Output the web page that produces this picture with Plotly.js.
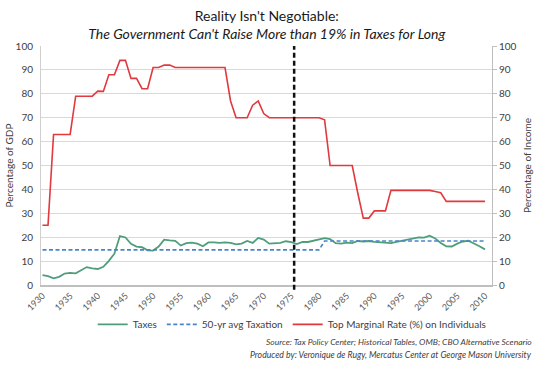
<!DOCTYPE html>
<html>
<head>
<meta charset="utf-8">
<script src="https://cdn.plot.ly/plotly-3.0.1.min.js"></script>
<style>html,body{margin:0;padding:0;background:#fff;}#chart{width:540px;height:367px;}</style>
</head>
<body>
<div id="chart"></div>
<script>
const years = [1930,1931,1932,1933,1934,1935,1936,1937,1938,1939,
  1940,1941,1942,1943,1944,1945,1946,1947,1948,1949,
  1950,1951,1952,1953,1954,1955,1956,1957,1958,1959,
  1960,1961,1962,1963,1964,1965,1966,1967,1968,1969,
  1970,1971,1972,1973,1974,1975,1976,1977,1978,1979,
  1980,1981,1982,1983,1984,1985,1986,1987,1988,1989,
  1990,1991,1992,1993,1994,1995,1996,1997,1998,1999,
  2000,2001,2002,2003,2004,2005,2006,2007,2008,2009,2010];

const taxes = [4.1,3.7,2.8,3.4,4.8,5.1,4.9,6.1,7.5,7.0,
  6.7,7.6,10.1,13.1,20.5,19.9,17.2,16.1,15.8,14.5,
  14.4,16.1,19.0,18.7,18.5,16.5,17.5,17.7,17.3,16.2,
  17.8,17.8,17.6,17.8,17.6,17.0,17.3,18.4,17.6,19.7,
  19.0,17.3,17.6,17.6,18.3,17.9,17.1,18.0,18.0,18.5,
  19.0,19.6,19.2,17.5,17.3,17.7,17.5,18.4,18.2,18.4,
  18.0,17.8,17.5,17.5,18.0,18.4,18.8,19.2,19.9,19.8,
  20.6,19.5,17.6,16.2,16.1,17.3,18.2,18.5,17.5,16.2,14.9];

const avgTaxation = [14.7,14.7,14.7,14.7,14.7,14.7,14.7,14.7,14.7,14.7,
  14.7,14.7,14.7,14.7,14.7,14.7,14.7,14.7,14.7,14.7,
  14.7,14.7,14.7,14.7,14.7,14.7,14.7,14.7,14.7,14.7,
  14.7,14.7,14.7,14.7,14.7,14.7,14.7,14.7,14.7,14.7,
  14.7,14.7,14.7,14.7,14.7,14.7,14.7,14.7,14.7,14.7,
  14.7,18.4,18.4,18.4,18.4,18.4,18.4,18.4,18.4,18.4,
  18.4,18.4,18.4,18.4,18.4,18.4,18.4,18.4,18.4,18.4,
  18.4,18.4,18.4,18.4,18.4,18.4,18.4,18.4,18.4,18.4,18.4];

const topRate = [25,25,63,63,63,63,79,79,79,79,
  81.1,81,88,88,94,94,86.45,86.45,82.13,82.13,
  91,91,92,92,91,91,91,91,91,91,
  91,91,91,91,77,70,70,70,75.25,77,
  71.75,70,70,70,70,70,70,70,70,70,
  70,69.13,50,50,50,50,50,38.5,28,28,
  31,31,31,39.6,39.6,39.6,39.6,39.6,39.6,39.6,
  39.6,39.1,38.6,35,35,35,35,35,35,35,35];

const tickYears = [1930,1935,1940,1945,1950,1955,1960,1965,1970,1975,1980,1985,1990,1995,2000,2005,2010];
const tickLabels = ["1930","1935","1940","1945","1950","1955","1960","1965","1970","1975","1980","1985","1990","1995","2000","2005","2010"];
const dividerYear = 1975.5;

const seriesNames = ["Taxes", "50-yr avg Taxation", "Top Marginal Rate (%) on Individuals"];

const FONT = "Lato, 'Open Sans', sans-serif";

const traces = [
  {x: years, y: taxes, name: seriesNames[0], type: "scatter", mode: "lines",
   line: {color: "#4e9e7c", width: 1.8}, yaxis: "y"},
  {x: years, y: avgTaxation, name: seriesNames[1], type: "scatter", mode: "lines",
   line: {color: "#4a85c9", width: 1.6, dash: "4px,2.5px", shape: "linear"}, yaxis: "y"},
  {x: years, y: topRate, name: seriesNames[2], type: "scatter", mode: "lines",
   line: {color: "#e0393e", width: 1.6}, yaxis: "y2"}
];

const layout = {
  width: 540, height: 367,
  margin: {l: 41, r: 48, t: 46, b: 82},
  paper_bgcolor: "#ffffff", plot_bgcolor: "#ffffff",
  font: {family: FONT, size: 10, color: "#404040"},
  title: {
    text: "Reality Isn't Negotiable:<br><i>The Government Can't Raise More than 19% in Taxes for Long</i>",
    font: {family: FONT, size: 14, color: "#1a1a1a"},
    x: 0.494, xanchor: "center", y: 0.944, yanchor: "top", yref: "container"
  },
  xaxis: {
    range: [1929.73, 2011.27],
    tickmode: "array", tickvals: tickYears, ticktext: tickLabels,
    tickangle: -45, tickfont: {size: 9, color: "#595959"},
    showgrid: false, zeroline: false,
    showline: true, linecolor: "#bfbfbf", linewidth: 2,
    ticks: ""
  },
  yaxis: {
    range: [0, 100], dtick: 10,
    showgrid: true, gridcolor: "#d9d9d9", gridwidth: 1,
    zeroline: false, showline: true, linecolor: "#d0d0d0", linewidth: 1,
    ticks: "", ticklabelstandoff: 5, tickfont: {size: 10, color: "#404040"},
    title: {text: "Percentage of GDP", font: {size: 10, color: "#404040"}, standoff: 0}
  },
  yaxis2: {
    range: [0, 100], dtick: 10, overlaying: "y", side: "right",
    showgrid: false, zeroline: false, showline: true, linecolor: "#bfbfbf", linewidth: 1,
    ticks: "outside", ticklen: 4, tickcolor: "#bfbfbf",
    tickfont: {size: 10, color: "#404040"},
    title: {text: "Percentage of Income", font: {size: 10, color: "#404040"}, standoff: 8}
  },
  showlegend: true,
  legend: {
    orientation: "h", x: 0.557, xanchor: "center", y: -0.104, yanchor: "top",
    font: {size: 10, color: "#404040"}, bgcolor: "rgba(0,0,0,0)", itemwidth: 30
  },
  shapes: [
    {type: "line", xref: "x", yref: "paper", x0: dividerYear, x1: dividerYear, y0: -0.02, y1: 1.0,
     line: {color: "#111111", width: 2.5, dash: "5px,3px"}}
  ],
  annotations: [
    {text: "<i>Source: Tax Policy Center; Historical Tables, OMB; CBO Alternative Scenario</i>",
     xref: "paper", yref: "paper", x: 1.093, y: -0.238, xanchor: "right", yanchor: "middle",
     showarrow: false, font: {size: 8.5, color: "#404040"}},
    {text: "<i>Produced by: Veronique de Rugy, Mercatus Center at George Mason University</i>",
     xref: "paper", yref: "paper", x: 1.093, y: -0.292, xanchor: "right", yanchor: "middle",
     showarrow: false, font: {size: 8.7, color: "#404040"}}
  ]
};

Plotly.newPlot("chart", traces, layout, {displayModeBar: false, staticPlot: true});
</script>
</body>
</html>
